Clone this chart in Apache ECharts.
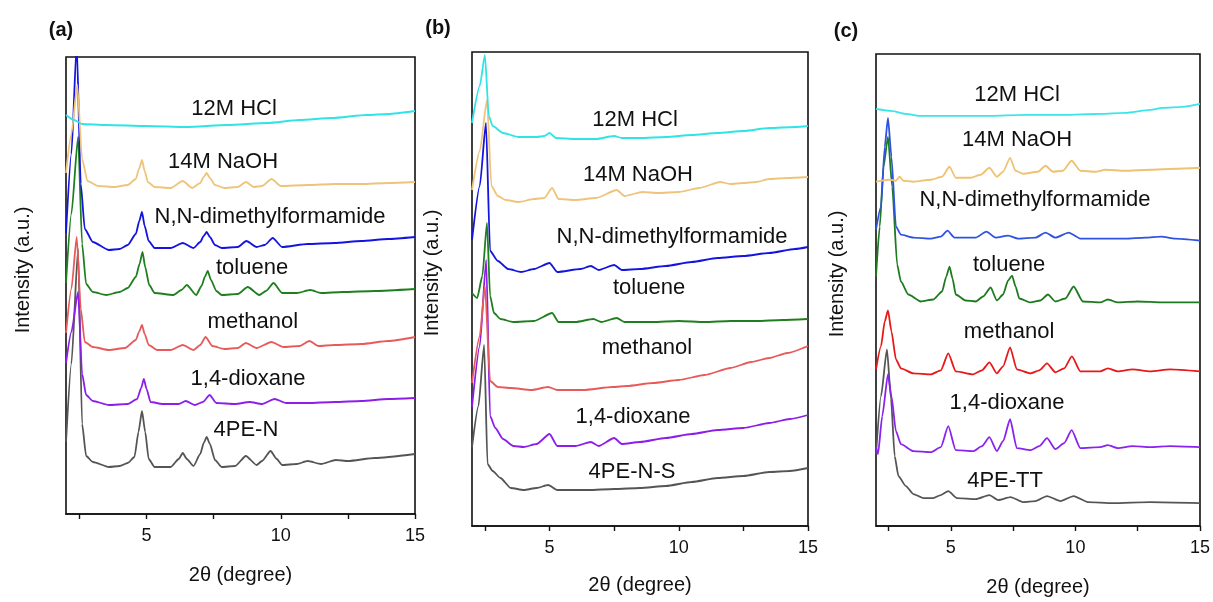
<!DOCTYPE html>
<html>
<head>
<meta charset="utf-8">
<script src="https://cdn.jsdelivr.net/npm/echarts@6/dist/echarts.min.js"></script>
<style>
html,body{margin:0;padding:0;background:#fff;}
#main{width:1213px;height:602px;}
</style>
</head>
<body>
<div id="main"></div>
<script>
// ---------- DATA (x = 2θ in degree, y = stacked intensity, a.u.) ----------
const seriesNames = ['12M HCl','14M NaOH','N,N-dimethylformamide','toluene','methanol','1,4-dioxane'];
const sampleNames = ['4PE-N','4PE-N-S','4PE-TT'];
const panelTitles = ['(a)','(b)','(c)'];
const xTicks = [2.5,5,7.5,10,12.5,15];
const xTickLabels = [5,10,15];

// Panel (a)
const a_hcl = [[2.0,399],[2.3,394],[2.6,390],[3.5,389],[5,388],[6.5,387],[8,389],[9.5,391],[10.7,394],[11.9,396],[13.2,399],[14,400],[15,403]];
const a_naoh = [[2.0,341],[2.2,380],[2.42,429],[2.6,355],[2.8,333],[3.2,328],[3.8,327],[4.3,329],[4.6,335],[4.72,345],[4.83,354],[4.93,343],[5.05,332],[5.3,327],[5.9,326],[6.35,333],[6.7,326],[7.0,331],[7.13,337],[7.24,341],[7.36,336],[7.55,329],[7.9,326],[8.4,327],[8.7,332],[9.0,327],[9.3,328],[9.66,335],[10.0,328],[11,329],[12,330],[13,330],[14,331],[15,332]];
const a_dmf = [[2.0,281],[2.2,360],[2.4,470],[2.55,330],[2.7,285],[3.0,272],[3.6,264],[4.0,265],[4.3,269],[4.6,280],[4.73,293],[4.83,302],[4.93,288],[5.08,273],[5.3,266],[5.9,266],[6.35,271],[6.75,266],[7.0,272],[7.13,278],[7.24,282],[7.36,277],[7.55,269],[7.8,266],[8.4,267],[8.72,273],[9.1,267],[9.4,269],[9.7,276],[10.05,267],[11,270],[12,271],[13,273],[14,275],[15,277]];
const a_tol = [[2.0,231],[2.2,300],[2.45,377],[2.6,270],[2.75,230],[3.0,222],[3.5,219],[4.0,222],[4.3,226],[4.6,237],[4.74,250],[4.85,262],[4.95,247],[5.1,229],[5.3,221],[6.0,219],[6.3,224],[6.5,229],[6.85,219],[7.05,228],[7.17,237],[7.28,243],[7.4,234],[7.6,223],[7.8,219],[8.4,220],[8.77,227],[9.2,219],[9.45,223],[9.73,231],[10.05,221],[10.6,221],[11.1,224],[11.5,221],[12.3,222],[13.5,223],[15,225]];
const a_meoh = [[2.0,181],[2.2,225],[2.4,277],[2.55,205],[2.7,172],[3.0,167],[3.6,164],[4.2,166],[4.6,174],[4.72,182],[4.83,189],[4.93,180],[5.08,169],[5.4,164],[5.9,164],[6.35,169],[6.75,164],[7.0,169],[7.2,177],[7.45,168],[7.9,165],[8.4,166],[8.7,171],[9.1,166],[9.65,172],[10.1,167],[10.7,168],[11.07,173],[11.4,168],[12,169],[13,170],[14,173],[15,177]];
const a_diox = [[2.0,151],[2.2,182],[2.45,222],[2.6,140],[2.75,119],[3.0,113],[3.6,109],[4.3,110],[4.65,115],[4.8,126],[4.9,135],[5.0,125],[5.15,112],[5.6,110],[6.2,110],[6.46,113],[6.8,109],[7.1,112],[7.35,119],[7.6,111],[8.3,110],[8.84,112],[9.3,110],[9.77,115],[10.2,111],[11,111],[12,112],[13,113],[14,115],[15,116]];
const a_sample = [[2.0,72],[2.2,150],[2.45,265],[2.6,90],[2.75,58],[3.0,52],[3.6,47],[4.0,48],[4.3,51],[4.55,57],[4.7,82],[4.83,103],[4.95,82],[5.08,55],[5.3,47],[5.9,47],[6.2,55],[6.35,61],[6.5,55],[6.75,48],[7.0,60],[7.13,71],[7.24,77],[7.36,70],[7.55,54],[7.8,47],[8.3,48],[8.7,58],[9.1,49],[9.3,53],[9.62,63],[9.85,55],[10.05,49],[10.6,50],[11.0,53],[11.5,50],[12.05,54],[12.5,53],[13.5,56],[15,60]];

// Panel (b)
const b_hcl = [[2.0,403],[2.3,440],[2.5,471],[2.65,410],[2.8,400],[3.2,393],[3.8,389],[4.5,389],[4.8,390],[5.0,393],[5.25,388],[6.0,387],[6.8,387],[7.5,390],[7.8,388],[8.5,388],[9.5,389],[10.5,391],[11.5,393],[12.5,395],[13.5,398],[14.5,399],[15,400]];
const b_naoh = [[2.0,336],[2.3,375],[2.58,426],[2.75,340],[3.0,330],[3.3,326],[3.8,324],[4.4,327],[4.8,328],[5.1,338],[5.35,327],[6.0,326],[6.8,328],[7.6,336],[7.9,330],[8.6,334],[9.2,333],[10,334],[10.8,338],[11.6,344],[12,342],[12.5,343],[13,344],[13.5,347],[14.2,348],[15,349]];
const b_dmf = [[2.0,286],[2.3,340],[2.54,403],[2.7,275],[3.0,265],[3.4,257],[3.9,254],[4.4,257],[5.0,263],[5.3,254],[6.2,257],[6.6,260],[6.9,256],[7.5,261],[7.8,256],[8.5,257],[9.5,260],[10.5,264],[11.5,268],[12.5,270],[13.5,273],[14.5,277],[15,279]];
const b_tol = [[2.0,233],[2.2,228],[2.4,250],[2.58,303],[2.7,230],[2.85,213],[3.1,207],[3.6,204],[4.4,205],[5.1,213],[5.35,204],[6.0,204],[6.7,207],[7.0,204],[7.6,208],[7.9,204],[9,204],[10,205],[11,204],[12,205],[13,205],[14,206],[15,207]];
const b_meoh = [[2.0,143],[2.3,190],[2.5,240],[2.7,145],[3.0,139],[3.5,138],[4.3,136],[4.95,139],[5.3,136],[6.3,136],[7.45,139],[8.0,140],[9,143],[10,146],[11,151],[12,158],[12.8,164],[13.5,168],[14.2,173],[15,180]];
const b_diox = [[2.0,119],[2.3,180],[2.55,266],[2.7,110],[2.9,98],[3.2,87],[3.6,80],[4.0,79],[4.5,82],[5.0,92],[5.3,80],[6.0,80],[6.6,84],[6.9,80],[7.5,88],[7.8,82],[8.5,84],[9.5,88],[10.5,92],[11.5,96],[12.5,98],[13.5,103],[14.3,107],[15,111]];
const b_sample = [[2.0,79],[2.25,120],[2.47,181],[2.6,62],[2.8,55],[3.1,48],[3.5,38],[4.0,36],[4.5,38],[4.95,41],[5.3,36],[6.5,36],[7.5,37],[8.5,38],[9.5,40],[10.5,44],[11.5,48],[12.5,50],[13.5,54],[14.3,55],[15,58]];

// Panel (c)
const c_hcl = [[2.0,418],[2.6,416],[3.2,413],[3.75,411],[5,411],[6.5,411],[8,412],[9.5,412],[11,413],[12,414],[13,417],[13.5,419],[14.3,420],[15,423]];
const c_naoh = [[2.0,345],[2.5,347],[2.8,346],[2.95,350],[3.1,346],[3.5,345],[4.2,347],[4.65,350],[4.95,360],[5.2,349],[5.8,349],[6.2,352],[6.55,359],[6.85,350],[7.1,355],[7.38,369],[7.6,356],[7.9,353],[8.5,355],[8.8,361],[9.1,355],[9.5,356],[9.85,366],[10.2,356],[10.8,355],[11.2,357],[12,356],[13,357],[14,358],[15,359]];
const c_dmf = [[2.0,297],[2.2,320],[2.35,380],[2.48,409],[2.62,370],[2.8,300],[3.0,292],[3.5,289],[4.2,288],[4.6,290],[4.87,296],[5.15,289],[6.0,289],[6.43,295],[6.8,289],[7.3,291],[7.7,288],[8.4,289],[8.8,294],[9.2,289],[9.73,294],[10.2,288],[11,288],[12,288],[12.8,289],[13.45,290],[14,288],[15,286]];
const c_tol = [[2.0,250],[2.15,300],[2.3,360],[2.48,390],[2.65,340],[2.85,262],[3.0,245],[3.3,232],[3.8,225],[4.3,227],[4.65,235],[4.82,250],[4.95,260],[5.07,248],[5.2,232],[5.6,226],[6.0,225],[6.3,230],[6.6,239],[6.85,226],[7.1,232],[7.3,246],[7.46,251],[7.6,240],[7.75,228],[8.2,224],[8.6,226],[8.9,232],[9.2,225],[9.6,228],[9.93,240],[10.3,225],[11.0,224],[11.3,227],[11.7,224],[12.5,225],[13.5,224],[15,224]];
const c_meoh = [[2.0,157],[2.2,180],[2.35,205],[2.48,216],[2.62,195],[2.8,167],[3.0,158],[3.5,153],[4.2,152],[4.6,156],[4.9,173],[5.2,155],[5.9,152],[6.25,156],[6.55,164],[6.85,153],[7.1,160],[7.38,179],[7.65,157],[8.2,153],[8.55,156],[8.86,163],[9.2,154],[9.55,158],[9.86,170],[10.2,155],[11,155],[11.3,158],[11.7,155],[12.3,157],[13,155],[13.8,157],[15,155]];
const c_diox = [[2.0,79],[2.08,72],[2.25,110],[2.48,152],[2.62,130],[2.8,95],[3.0,82],[3.5,75],[4.2,74],[4.6,79],[4.9,100],[5.2,76],[5.9,75],[6.25,80],[6.55,89],[6.85,75],[7.1,85],[7.38,107],[7.65,78],[8.2,76],[8.55,80],[8.86,88],[9.2,77],[9.55,83],[9.85,96],[10.2,78],[11,79],[11.3,81],[11.7,78],[12.3,80],[13,79],[13.8,80],[15,79]];
const c_sample = [[2.0,72],[2.2,130],[2.44,177],[2.6,128],[2.75,70],[2.9,50],[3.2,40],[3.5,32],[3.9,28],[4.3,28],[4.6,31],[4.9,35],[5.25,28],[6.0,27],[6.55,31],[6.9,26],[7.4,29],[7.9,24],[8.4,25],[8.86,30],[9.4,25],[9.93,30],[10.5,24],[11.5,23],[13,24],[15,23]];

// label anchor points (x in degree, y in a.u.)
const a_labelPos = [[8.26,405],[7.85,352],[9.6,297],[8.93,246],[8.96,192],[8.78,135],[8.7,84]];
const b_labelPos = [[8.31,406],[8.42,351],[9.74,289],[8.85,238],[8.77,178],[8.23,109],[8.19,54]];
const c_labelPos = [[7.66,432],[7.66,387],[8.38,327],[7.34,262],[7.34,194],[7.26,123],[7.18,45]];
const yMax = [457,474,473];

// ---------- STYLE ----------
const colorsAB = ['#2ee4e6','#eec47a','#1414e0','#1f7f1f','#e85a5a','#8c1ee8','#555555'];
const colorsC  = ['#38e6e8','#efc272','#2f53e0','#1e7a1e','#e81818','#8a22ee','#555555'];
const grids = [
  {left:66, top:57, width:349, height:457},
  {left:472, top:52, width:336, height:474},
  {left:876, top:54, width:326, height:473}
];
const font = "'Liberation Sans', Arial, sans-serif";

const panels = [
  {data:[a_hcl,a_naoh,a_dmf,a_tol,a_meoh,a_diox,a_sample], labels:a_labelPos, colors:colorsAB},
  {data:[b_hcl,b_naoh,b_dmf,b_tol,b_meoh,b_diox,b_sample], labels:b_labelPos, colors:colorsAB},
  {data:[c_hcl,c_naoh,c_dmf,c_tol,c_meoh,c_diox,c_sample], labels:c_labelPos, colors:colorsC}
];

const option = {
  animation:false,
  backgroundColor:'#fff',
  grid: grids.map(g => Object.assign({show:true, borderColor:'#111', borderWidth:1.6, backgroundColor:'transparent'}, g)),
  xAxis: grids.map((g,i) => ({
    gridIndex:i, type:'value', min:2, max:15,
    name:'2\u03b8 (degree)', nameLocation:'middle', nameGap: [51,49,51][i],
    nameTextStyle:{fontFamily:font, fontSize:20, color:'#111'},
    axisLine:{show:true, lineStyle:{color:'#111', width:1.6}},
    axisTick:{show:true, inside:false, length:5, customValues:xTicks, lineStyle:{color:'#111', width:1.4}},
    axisLabel:{show:true, margin:13, customValues:xTickLabels, fontFamily:font, fontSize:18, color:'#111'},
    splitLine:{show:false}
  })),
  yAxis: grids.map((g,i) => ({
    gridIndex:i, type:'value', min:0, max:yMax[i],
    axisLine:{show:false}, axisTick:{show:false}, axisLabel:{show:false}, splitLine:{show:false}
  })),
  series: [],
  graphic: []
};

panels.forEach((p, pi) => {
  const names = seriesNames.concat([sampleNames[pi]]);
  p.data.forEach((d, si) => {
    option.series.push({
      type:'line', name:names[si], xAxisIndex:pi, yAxisIndex:pi,
      data:d, showSymbol:false, smooth:0.2, smoothMonotone:'x', clip:true,
      lineStyle:{color:p.colors[si], width:1.8},
      z: 10 - si
    });
  });
  option.series.push({
    type:'scatter', xAxisIndex:pi, yAxisIndex:pi, silent:true, z:20,
    symbolSize:0, itemStyle:{color:'rgba(0,0,0,0)'},
    data: p.labels.map((pos, k) => [pos[0], pos[1], names[k]]),
    label:{show:true, position:'inside', opacity:1, formatter: prm => prm.value[2],
      fontFamily:font, fontSize:22, color:'#111'}
  });
});

// panel letters and y-axis names
const titlePos = [[61,30],[438,28],[846,31]];
const yNamePos = [[23,270],[432,273],[837,274]];
titlePos.forEach((t,i) => {
  option.graphic.push({type:'text', x:t[0], y:t[1], style:{text:panelTitles[i], font:"bold 20px "+font, fill:'#111', align:'center', verticalAlign:'middle'}});
});
yNamePos.forEach(t => {
  option.graphic.push({type:'text', x:t[0], y:t[1], rotation:Math.PI/2, style:{text:'Intensity (a.u.)', font:"20px "+font, fill:'#111', align:'center', verticalAlign:'middle'}});
});

const chart = echarts.init(document.getElementById('main'), null, {renderer:'canvas'});
chart.setOption(option);
</script>
</body>
</html>
